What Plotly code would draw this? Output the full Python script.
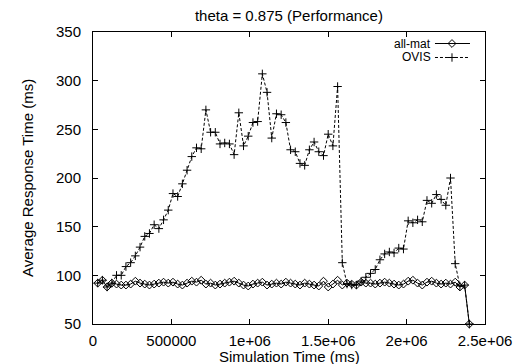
import plotly.graph_objects as go

# Sampling grid of the simulation (ms)
sim_time = list(range(30000, 2400001, 30000))

# Average response time (ms) per sample
all_mat = [92, 95, 88, 92, 91, 90, 90, 91, 94, 92,
           91, 90, 91, 92, 93, 92, 93, 91, 90, 92,
           94, 93, 95, 91, 92, 90, 91, 92, 93, 94,
           92, 90, 89, 91, 92, 93, 90, 91, 92, 91,
           93, 92, 91, 90, 92, 91, 90, 89, 94, 88,
           91, 95, 90, 92, 91, 90, 93, 92, 92, 91,
           92, 93, 92, 91, 90, 91, 94, 95, 92, 90,
           93, 94, 92, 91, 92, 91, 93, 88, 90, 50]

ovis = [92, 95, 88, 92, 100, 100, 109, 113, 120, 129,
        140, 143, 152, 148, 157, 167, 184, 181, 194, 208,
        222, 231, 230, 270, 247, 247, 235, 236, 235, 224,
        267, 233, 243, 257, 258, 307, 288, 241, 266, 265,
        257, 229, 227, 215, 213, 229, 237, 227, 223, 245,
        233, 294, 113, 91, 90, 90, 94, 98, 102, 106,
        116, 122, 124, 123, 128, 127, 156, 154, 157, 155,
        177, 174, 183, 178, 172, 200, 112, 89, 90, 50]

series_names = ["all-mat", "OVIS"]
x_ticks = [0, 500000, 1000000, 1500000, 2000000, 2500000]
x_tick_text = ["0", "500000", "1e+06", "1.5e+06", "2e+06", "2.5e+06"]
y_ticks = [50, 100, 150, 200, 250, 300, 350]

FONT = "Liberation Sans, Arial, Helvetica, sans-serif"
BLACK = "#000000"

diamond = dict(symbol="diamond-open", size=6, color=BLACK, line=dict(width=1, color=BLACK))
cross = dict(symbol="cross-thin-open", size=6, color=BLACK, line=dict(width=1, color=BLACK))
solid = dict(color=BLACK, width=1)
dashed = dict(color=BLACK, width=1, dash="3px,2px")

fig = go.Figure()

fig.add_trace(go.Scatter(x=sim_time, y=all_mat, mode="lines+markers", name=series_names[0],
                         line=solid, marker=diamond, cliponaxis=False, showlegend=False))
fig.add_trace(go.Scatter(x=sim_time, y=ovis, mode="lines+markers", name=series_names[1],
                         line=dashed, marker=cross, cliponaxis=False, showlegend=False))

# Key in the upper right corner: label on the left, line sample on the right
key_rows = [(0.9606, solid, diamond), (0.9127, dashed, cross)]
for name, (ky, ln, mk) in zip(series_names, key_rows):
    fig.add_trace(go.Scatter(x=[0.8724, 0.9617], y=[ky, ky], mode="lines", line=ln,
                             xaxis="x2", yaxis="y2", showlegend=False, hoverinfo="skip"))
    fig.add_trace(go.Scatter(x=[0.9158], y=[ky], mode="markers", marker=mk,
                             xaxis="x2", yaxis="y2", showlegend=False, hoverinfo="skip"))
    fig.add_annotation(text=name, xref="paper", yref="paper", x=0.8648, y=ky,
                       xanchor="right", yanchor="middle", showarrow=False, borderpad=0,
                       font=dict(family=FONT, size=12, color=BLACK))

# Axis titles
fig.add_annotation(text="Simulation Time (ms)", xref="paper", yref="paper",
                   x=0.5, y=-0.1096, xanchor="center", yanchor="middle", showarrow=False,
                   font=dict(family=FONT, size=15, color=BLACK))
fig.add_annotation(text="Average Response Time (ms)", xref="paper", yref="paper",
                   x=-0.1684, y=0.5, xanchor="center", yanchor="middle", showarrow=False,
                   textangle=-90, font=dict(family=FONT, size=15, color=BLACK))

axis_common = dict(
    showline=True, linecolor=BLACK, linewidth=1, mirror="ticks",
    ticks="inside", ticklen=5, tickwidth=1, tickcolor=BLACK,
    showgrid=False, zeroline=False, automargin=False,
    tickfont=dict(family=FONT, size=15, color=BLACK),
)

fig.update_layout(
    width=515, height=364,
    margin=dict(l=93, r=30, t=32, b=40),
    paper_bgcolor="white", plot_bgcolor="white",
    title=dict(text="theta = 0.875 (Performance)", x=0.561, xanchor="center",
               y=0.956, yanchor="middle", font=dict(family=FONT, size=15, color=BLACK)),
    xaxis=dict(range=[0, 2500000], tickvals=x_ticks, ticktext=x_tick_text,
               ticklabelstandoff=3, **axis_common),
    yaxis=dict(range=[50, 350], tickvals=y_ticks, ticklabelstandoff=8, **axis_common),
    xaxis2=dict(overlaying="x", range=[0, 1], visible=False),
    yaxis2=dict(overlaying="y", range=[0, 1], visible=False),
    showlegend=False,
)

fig.write_html("out.html")
